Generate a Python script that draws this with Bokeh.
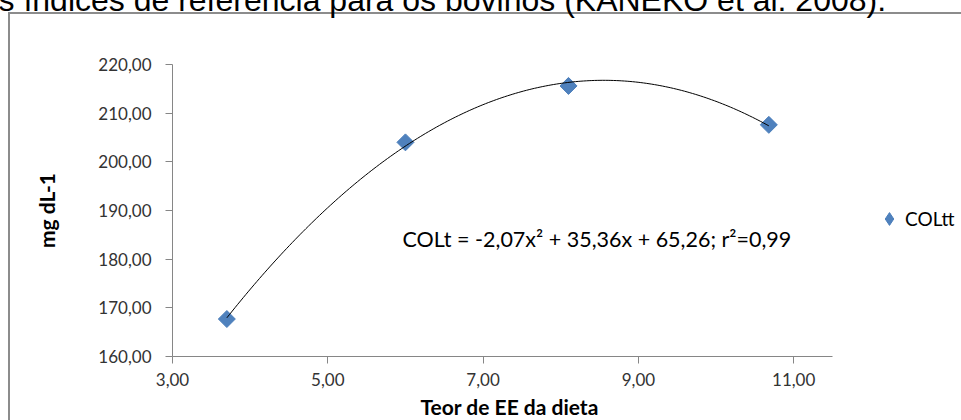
import numpy as np
from bokeh.plotting import figure
from bokeh.models import (Range1d, FixedTicker, CustomJSTickFormatter, Label,
                          Legend, LegendItem, Title)
from bokeh.embed import file_html
from bokeh.resources import INLINE

# ---- data ----
teor_ee = [3.70, 6.00, 8.10, 10.68]
colt = [167.7, 204.0, 215.6, 207.6]
x_ticks = [3, 5, 7, 9, 11]
y_ticks = [160, 170, 180, 190, 200, 210, 220]
x_axis_min, x_axis_max = 3, 11.5
y_axis_min, y_axis_max = 160, 220
series_name = "COLtt"
equation = "COLt = -2,07x² + 35,36x + 65,26; r²=0,99"
x_title = "Teor de EE da dieta"
y_title = "mg dL-1"
page_text = "s índices de referência para os bovinos (KANEKO et al. 2008)."

# polynomial (order 2) trendline fitted to the points, as Excel does
coef = np.polyfit(teor_ee, colt, 2)
trend_x = np.linspace(min(teor_ee), max(teor_ee), 200)
trend_y = np.polyval(coef, trend_x)

FONT = "Lato"
AXIS_GRAY = "#868686"
BOX_GRAY = "#8c8c8c"
BLUE = "#4F81BD"

SHIFT = 76            # canvas starts above the window so the cropped text line is cut
EXTRA = 12            # spare room below the window
W = 961
H = 420 + SHIFT + EXTRA
LEFT = 172
TOP = 64 + SHIFT
BOTTOM = 64 + EXTRA
axis_px = 660         # pixel length of the drawn x axis (3 -> 11.5)
frame_w = W - LEFT
x_end = x_axis_min + (x_axis_max - x_axis_min) * frame_w / axis_px

p = figure(width=W, height=H, output_backend="svg", toolbar_location=None,
           x_range=Range1d(x_axis_min, x_end), y_range=Range1d(y_axis_min, y_axis_max),
           min_border_left=LEFT, min_border_right=0,
           min_border_top=TOP, min_border_bottom=BOTTOM)
p.styles = {
    "margin-top": f"-{SHIFT}px",
    "background": (f"linear-gradient({BOX_GRAY},{BOX_GRAY}) 8px {12 + SHIFT}px / 2px 100% no-repeat, "
                   f"linear-gradient({BOX_GRAY},{BOX_GRAY}) 8px {12 + SHIFT}px / 100% 2px no-repeat, "
                   "#ffffff"),
}
p.border_fill_color = None
p.background_fill_color = None
p.outline_line_color = None
p.xgrid.visible = False
p.ygrid.visible = False

# cropped document line above the chart box
p.title = Title(text=page_text, align="left", offset=-LEFT - 2, standoff=90,
                vertical_align="top", text_font="Liberation Sans",
                text_font_size="32px", text_font_style="normal",
                text_color="black")

fmt = CustomJSTickFormatter(code="return tick.toFixed(2).replace('.', ',');")
for ax, ticks in ((p.xaxis[0], x_ticks), (p.yaxis[0], y_ticks)):
    ax.ticker = FixedTicker(ticks=ticks, minor_ticks=[])
    ax.formatter = fmt
    ax.axis_line_color = AXIS_GRAY
    ax.major_tick_line_color = AXIS_GRAY
    ax.minor_tick_line_color = None
    ax.major_tick_out = 7
    ax.major_tick_in = 0
    ax.major_label_text_font = FONT
    ax.major_label_text_font_size = "17px"
    ax.major_label_text_color = "#333333"
    ax.axis_label_text_font = FONT
    ax.axis_label_text_font_size = "21px"
    ax.axis_label_text_font_style = "bold"
    ax.axis_label_text_color = "black"

p.xaxis.bounds = (x_axis_min, x_axis_max)
p.yaxis.bounds = (y_axis_min, y_axis_max)
p.yaxis.axis_label = y_title
p.yaxis.major_label_standoff = 14
p.xaxis.major_label_standoff = 9
p.yaxis.axis_label_standoff = 36

# x axis title, placed below the axis and centred like the reference
p.add_layout(Title(text=x_title, align="left", offset=420 - LEFT, standoff=10,
                   vertical_align="top", text_font=FONT, text_font_size="21px",
                   text_font_style="bold", text_color="black"), "below")

r = p.scatter(teor_ee, colt, marker="square", angle=np.pi / 4, size=12,
              fill_color=BLUE, line_color="#4A7EBB")
p.line(trend_x, trend_y, line_color="black", line_width=1)

# legend swatch: Excel's diamond marker (a renderer with no drawable point)
swatch = p.scatter(x=[np.nan], y=[np.nan], marker="diamond",
                   fill_color=BLUE, line_color="#4A7EBB")

p.add_layout(Label(x=230, y=118, x_units="screen", y_units="screen",
                   text=equation, text_font=FONT, text_font_size="21.5px",
                   text_baseline="middle", text_color="black"))

legend = Legend(items=[LegendItem(label=series_name, renderers=[swatch])],
                location=(701, 120), padding=0, margin=0, spacing=0,
                glyph_width=32, glyph_height=35, label_height=35,
                label_standoff=0, border_line_color=None,
                background_fill_alpha=0,
                label_text_font=FONT, label_text_font_size="19px",
                label_text_color="black")
p.add_layout(legend)

open("out.html", "w").write(file_html(p, INLINE))
